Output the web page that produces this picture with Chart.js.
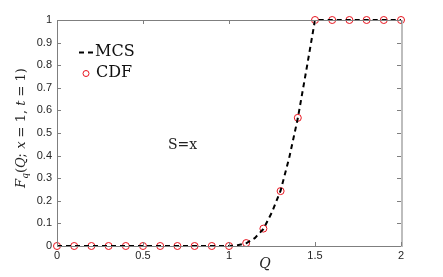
<!DOCTYPE html>
<html>
<head>
<meta charset="utf-8">
<script src="https://cdn.jsdelivr.net/npm/chart.js@4.4.1/dist/chart.umd.min.js"></script>
<style>
  html, body { margin: 0; padding: 0; background: #fff; }
  #wrap { width: 443px; height: 277px; }
</style>
</head>
<body>
<div id="wrap"><canvas id="chart"></canvas></div>
<script>
// data
const cdfQ = [0, 0.1, 0.2, 0.3, 0.4, 0.5, 0.6, 0.7, 0.8, 0.9, 1.0, 1.1, 1.2, 1.3, 1.4, 1.5, 1.6, 1.7, 1.8, 1.9, 2.0];
const cdfF = [0, 0, 0, 0, 0, 0, 0, 0, 0, 0, 0, 0.013, 0.077, 0.243, 0.567, 1, 1, 1, 1, 1, 1];

const mcsQ = [0, 0.2, 0.4, 0.6, 0.8, 1.0, 1.05, 1.1, 1.15, 1.2, 1.25, 1.3, 1.35, 1.4, 1.45, 1.5, 1.6, 1.8, 2.0];
const mcsF = [0, 0, 0, 0, 0, 0, 0.003, 0.012, 0.035, 0.075, 0.15, 0.245, 0.39, 0.565, 0.78, 1, 1, 1, 1];

const xTicks = [0, 0.5, 1, 1.5, 2];
const yTicks = [0, 0.1, 0.2, 0.3, 0.4, 0.5, 0.6, 0.7, 0.8, 0.9, 1];

const toPts = (xs, ys) => xs.map((x, i) => ({ x: x, y: ys[i] }));
const fmt = v => String(+Number(v).toFixed(2));

// frame, inward ticks, legend and labels
const decor = {
  id: 'decor',
  afterDraw(chart) {
    const ctx = chart.ctx;
    const a = chart.chartArea;
    const xs = chart.scales.x, ys = chart.scales.y;
    ctx.save();
    ctx.strokeStyle = '#7f7f7f';
    ctx.lineWidth = 1;
    ctx.beginPath();
    ctx.moveTo(a.left + 0.5, a.top + 0.5);
    ctx.lineTo(a.right, a.top + 0.5);
    ctx.moveTo(a.left + 0.5, a.top);
    ctx.lineTo(a.left + 0.5, a.bottom + 0.5);
    ctx.lineTo(a.right, a.bottom + 0.5);
    ctx.stroke();
    ctx.strokeStyle = '#bdbdbd';
    ctx.lineWidth = 2;
    ctx.beginPath();
    ctx.moveTo(a.right + 1, a.top);
    ctx.lineTo(a.right + 1, a.bottom + 1);
    ctx.stroke();

    ctx.strokeStyle = '#7f7f7f';
    ctx.lineWidth = 1;
    ctx.beginPath();
    xTicks.forEach(v => {
      const px = Math.round(xs.getPixelForValue(v)) + 0.5;
      ctx.moveTo(px, a.bottom);
      ctx.lineTo(px, a.bottom - 4);
      ctx.moveTo(px, a.top);
      ctx.lineTo(px, a.top + 4);
    });
    yTicks.forEach(v => {
      const py = Math.round(ys.getPixelForValue(v)) + 0.5;
      ctx.moveTo(a.left, py);
      ctx.lineTo(a.left + 4, py);
      ctx.moveTo(a.right, py);
      ctx.lineTo(a.right - 4, py);
    });
    ctx.stroke();

    // legend
    ctx.fillStyle = '#111';
    ctx.strokeStyle = '#000';
    ctx.lineWidth = 2;
    ctx.setLineDash([5, 4]);
    ctx.beginPath();
    ctx.moveTo(79, 52.5);
    ctx.lineTo(93, 52.5);
    ctx.stroke();
    ctx.setLineDash([]);
    ctx.font = '16px "DejaVu Serif"';
    ctx.textBaseline = 'middle';
    ctx.textAlign = 'left';
    ctx.fillText('MCS', 95, 52);
    ctx.strokeStyle = '#e8141e';
    ctx.lineWidth = 1;
    ctx.beginPath();
    ctx.arc(86, 73.5, 3, 0, Math.PI * 2);
    ctx.stroke();
    ctx.fillText('CDF', 96, 73);

    ctx.font = '14px "DejaVu Serif"';
    ctx.fillStyle = '#222';
    ctx.fillText('S=x', 168, 145);

    ctx.font = 'italic 14px "DejaVu Serif"';
    ctx.textAlign = 'center';
    ctx.fillText('Q', 265, 264);

    // rotated y label F_q(Q; x = 1, t = 1)
    const segs = [
      ['F', 'italic 13px "DejaVu Serif"', 0],
      ['q', 'italic 9px "DejaVu Serif"', 4],
      ['(', '13px "DejaVu Serif"', 0],
      ['Q', 'italic 13px "DejaVu Serif"', 0],
      ['; ', '13px "DejaVu Serif"', 0],
      ['x', 'italic 13px "DejaVu Serif"', 0],
      [' = 1, ', '13px "DejaVu Serif"', 0],
      ['t', 'italic 13px "DejaVu Serif"', 0],
      [' = 1)', '13px "DejaVu Serif"', 0]
    ];
    let total = 0;
    segs.forEach(s => { ctx.font = s[1]; total += ctx.measureText(s[0]).width; });
    ctx.translate(22, 128);
    ctx.rotate(-Math.PI / 2);
    ctx.textAlign = 'left';
    let cx = -total / 2;
    segs.forEach(s => {
      ctx.font = s[1];
      ctx.fillText(s[0], cx, s[2]);
      cx += ctx.measureText(s[0]).width;
    });
    ctx.restore();
  }
};

new Chart(document.getElementById('chart'), {
  type: 'scatter',
  data: {
    datasets: [
      {
        label: 'MCS',
        data: toPts(mcsQ, mcsF),
        showLine: true,
        borderColor: '#000',
        borderWidth: 2,
        borderDash: [5, 4],
        pointRadius: 0,
        fill: false,
        clip: false
      },
      {
        label: 'CDF',
        data: toPts(cdfQ, cdfF),
        showLine: false,
        pointRadius: 3.5,
        pointBorderColor: '#e8141e',
        pointBackgroundColor: 'rgba(0,0,0,0)',
        pointBorderWidth: 1,
        clip: false
      }
    ]
  },
  options: {
    responsive: true,
    maintainAspectRatio: false,
    animation: false,
    layout: { padding: { left: 0, top: 20, right: 42, bottom: 0 } },
    plugins: { legend: { display: false }, tooltip: { enabled: false } },
    scales: {
      x: {
        type: 'linear',
        min: 0, max: 2,
        afterBuildTicks: s => { s.ticks = xTicks.map(v => ({ value: v })); },
        afterFit: s => { s.height = 31; },
        grid: { display: false, drawTicks: false },
        border: { display: false },
        ticks: { padding: 3, color: '#262626', callback: fmt, font: { family: 'Liberation Sans', size: 11 } }
      },
      y: {
        min: 0, max: 1,
        afterBuildTicks: s => { s.ticks = yTicks.map(v => ({ value: v })); },
        afterFit: s => { s.width = 57; },
        grid: { display: false, drawTicks: false },
        border: { display: false },
        ticks: { padding: 5, color: '#262626', callback: fmt, font: { family: 'Liberation Sans', size: 11 } }
      }
    }
  },
  plugins: [decor]
});
</script>
</body>
</html>
